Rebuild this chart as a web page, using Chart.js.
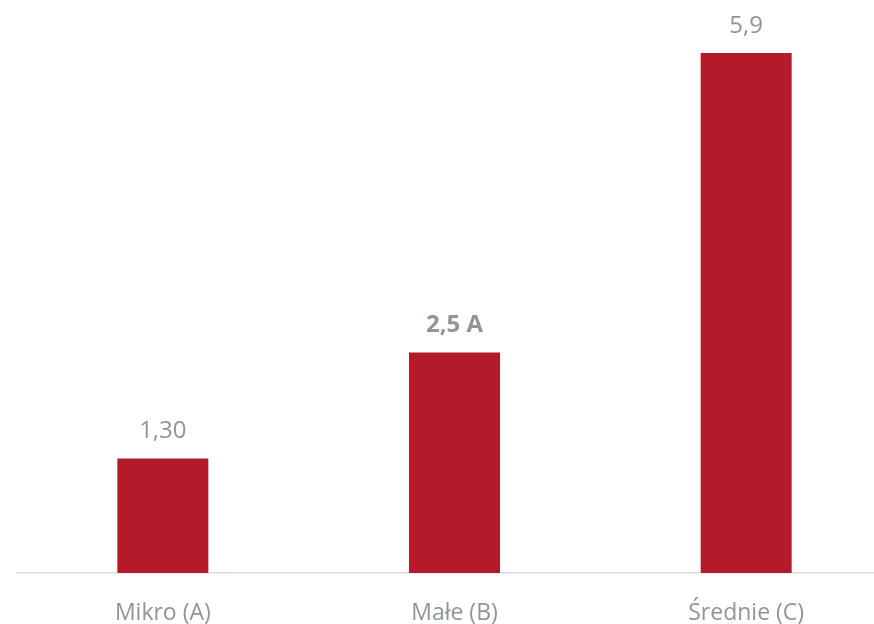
<!DOCTYPE html>
<html>
<head>
<meta charset="utf-8">
<script src="https://cdn.jsdelivr.net/npm/chart.js@4"></script>
<style>
  html, body { margin: 0; padding: 0; background: #fff; overflow: hidden; }
  #wrap { width: 892px; height: 624px; }
</style>
</head>
<body>
<div id="wrap"><canvas id="chart"></canvas></div>
<script>
// dane wykresu
const categories = ["Mikro (A)", "Małe (B)", "Średnie (C)"];
const values = [1.30, 2.5, 5.9];
const valueLabels = ["1,30", "2,5 A", "5,9"];
const boldLabels = [false, true, false];

const grey = "#8f9598";
const red = "#b51a2a";

// etykiety nad słupkami
const barLabels = {
    id: "barLabels",
    afterDatasetsDraw(chart) {
        const ctx = chart.ctx;
        const meta = chart.getDatasetMeta(0);
        ctx.save();
        ctx.fillStyle = grey;
        ctx.textAlign = "center";
        ctx.textBaseline = "middle";
        meta.data.forEach((bar, i) => {
            ctx.font = (boldLabels[i] ? "bold " : "") + "24px 'Open Sans'";
            ctx.fillText(valueLabels[i], bar.x, bar.y - 27);
        });
        ctx.restore();
    }
};

const ctx = document.getElementById("chart").getContext("2d");
new Chart(ctx, {
    type: "bar",
    data: {
        labels: categories,
        datasets: [{
            data: values,
            backgroundColor: red,
            barPercentage: 0.312,
            categoryPercentage: 1
        }]
    },
    options: {
        responsive: true,
        maintainAspectRatio: false,
        animation: false,
        layout: { padding: { left: 17, right: 0, top: 0, bottom: 0 } },
        plugins: {
            legend: { display: false },
            tooltip: { enabled: false }
        },
        scales: {
            x: {
                grid: { display: false, drawTicks: false },
                border: { display: true, color: "#dcdcdc", width: 1.5 },
                ticks: {
                    color: grey,
                    padding: 27,
                    font: { family: "Open Sans", size: 23 }
                },
                afterFit(scale) { scale.height = 51; }
            },
            y: {
                display: false,
                min: 0,
                max: 6.5
            }
        }
    },
    plugins: [barLabels]
});
</script>
</body>
</html>
